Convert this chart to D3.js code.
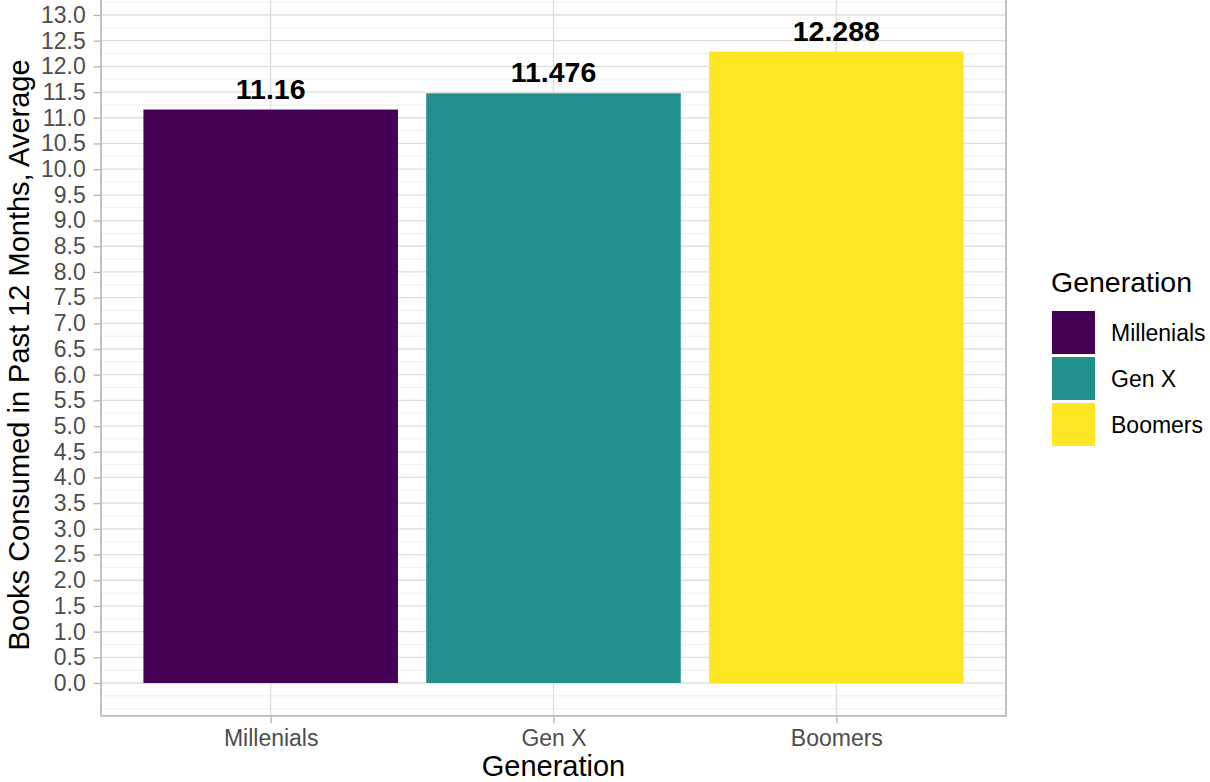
<!DOCTYPE html>
<html><head><meta charset="utf-8">
<script src="https://cdn.jsdelivr.net/npm/d3@7"></script>
<style>body{margin:0;background:#fff}svg{display:block;font-family:"Liberation Sans",Arial,sans-serif}</style>
</head><body>
<svg id="chart" width="1210" height="782"></svg>
<script>
const categories = ["Millenials", "Gen X", "Boomers"];
const values = [11.16, 11.476, 12.288];
const labels = ["11.16", "11.476", "12.288"];
const colors = ["#440154", "#21908C", "#FDE725"];
const yTicks = d3.range(0, 13.01, 0.5);
const yMinor = d3.range(-0.5, 13.51, 0.25);

const svg = d3.select("#chart");
const L = 101, R = 1006, T = -7.1, B = 715.9;

const xc = d3.scalePoint().domain(categories).range([L, R]).padding(0.6);
const barW = xc.step() * 0.9;
const y = d3.scaleLinear().domain([-0.64, 13.43]).range([B, T]);

const g = svg.append("g");
svg.append("defs").append("clipPath").attr("id","clip").append("rect").attr("x",L).attr("y",T).attr("width",R-L).attr("height",B-T);
const panel = g.append("g").attr("clip-path","url(#clip)");

// minor gridlines
panel.selectAll(".minor").data(yMinor.filter(v => !yTicks.some(t => Math.abs(t - v) < 1e-9)))
  .enter().append("line")
  .attr("x1", L).attr("x2", R).attr("y1", d => y(d)).attr("y2", d => y(d))
  .attr("stroke", "#EBEBEB").attr("stroke-width", 0.8);
// major gridlines
panel.selectAll(".major").data(yTicks).enter().append("line")
  .attr("x1", L).attr("x2", R).attr("y1", d => y(d)).attr("y2", d => y(d))
  .attr("stroke", "#DEDEDE").attr("stroke-width", 1.3);
panel.selectAll(".vmajor").data(categories).enter().append("line")
  .attr("x1", d => xc(d)).attr("x2", d => xc(d)).attr("y1", T).attr("y2", B)
  .attr("stroke", "#DEDEDE").attr("stroke-width", 1.3);

// bars
const data = categories.map((c, i) => ({c, v: values[i], l: labels[i], col: colors[i]}));
panel.selectAll(".bar").data(data).enter().append("rect")
  .attr("x", d => xc(d.c) - barW / 2).attr("width", barW)
  .attr("y", d => y(d.v)).attr("height", d => y(0) - y(d.v))
  .attr("fill", d => d.col);

// bar labels
g.selectAll(".lbl").data(data).enter().append("text")
  .attr("x", d => xc(d.c)).attr("y", d => y(d.v) - 11)
  .attr("text-anchor", "middle").attr("font-weight", "bold").attr("font-size", 28.5)
  .attr("fill", "#000").text(d => d.l);

// panel border
g.append("rect").attr("x", L).attr("y", T).attr("width", R - L).attr("height", B - T)
  .attr("fill", "none").attr("stroke", "#B3B3B3").attr("stroke-width", 1.6);

// y axis
const yAxis = g.append("g").attr("transform", `translate(${L - 0.8},0)`)
  .call(d3.axisLeft(y).tickValues(yTicks).tickFormat(d3.format(".1f")).tickSize(6.5).tickPadding(8));
yAxis.select(".domain").remove();
yAxis.selectAll(".tick line").attr("stroke", "#B3B3B3").attr("stroke-width", 1.3);
yAxis.selectAll(".tick text").attr("fill", "#4D4D4D").attr("font-size", 23).attr("font-family", "Liberation Sans, Arial, sans-serif");

// x axis
const xAxis = g.append("g").attr("transform", `translate(0,${B + 0.8})`)
  .call(d3.axisBottom(xc).tickSize(6.5).tickPadding(6));
xAxis.select(".domain").remove();
xAxis.selectAll(".tick line").attr("stroke", "#B3B3B3").attr("stroke-width", 1.3);
xAxis.selectAll(".tick text").attr("fill", "#4D4D4D").attr("font-size", 23).attr("font-family", "Liberation Sans, Arial, sans-serif");

// axis titles
g.append("text").attr("x", (L + R) / 2).attr("y", 776).attr("text-anchor", "middle")
  .attr("font-size", 29).attr("fill", "#000").text("Generation");
g.append("text").attr("transform", `translate(29,${B / 2 - 3}) rotate(-90)`).attr("text-anchor", "middle")
  .attr("font-size", 29).attr("fill", "#000").text("Books Consumed in Past 12 Months, Average");

// legend
const lg = g.append("g");
lg.append("text").attr("x", 1051).attr("y", 292).attr("font-size", 28.5).attr("fill", "#000").text("Generation");
const items = lg.selectAll(".item").data(data).enter().append("g")
  .attr("transform", (d, i) => `translate(1052,${311 + i * 46})`);
items.append("rect").attr("width", 43).attr("height", 43).attr("fill", d => d.col);
items.append("text").attr("x", 59).attr("y", 30).attr("font-size", 23).attr("fill", "#000").text(d => d.c);
</script>
</body></html>
